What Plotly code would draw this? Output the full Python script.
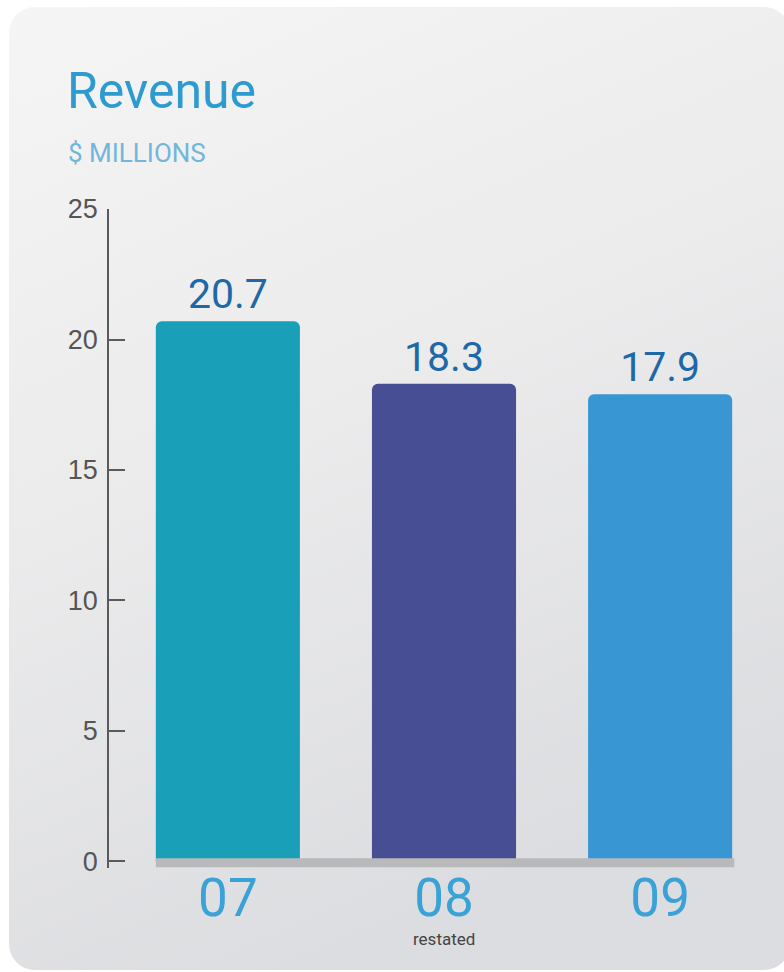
import base64
import plotly.graph_objects as go

# ---- data ----
years = ["07", "08", "09"]
revenue = [20.7, 18.3, 17.9]
value_labels = ["20.7", "18.3", "17.9"]
bar_colors = ["#199fb8", "#484e93", "#3896d3"]
y_ticks = [0, 5, 10, 15, 20, 25]
note_year = "08"
note_text = "restated"

W, H = 784, 972
ML, MR, MT, MB = 109, 5, 209, 104

COND = "Roboto, Liberation Sans Narrow, sans-serif"
SANS = "Liberation Sans, Arial, sans-serif"


def px_x(p):
    return (p - ML) / (W - ML - MR)


def px_y(p):
    return 1 - (p - MT) / (H - MT - MB)


# background card (rounded, gradient) as an inline SVG image
cx0, cy0, cw, ch = 9, 7, 781, 963
svg = f"""<svg xmlns='http://www.w3.org/2000/svg' width='{cw}' height='{ch}' viewBox='0 0 {cw} {ch}'>
<defs><linearGradient id='g' x1='0' y1='0' x2='0.35' y2='1'>
<stop offset='0' stop-color='#f5f5f5'/><stop offset='0.5' stop-color='#ebebec'/><stop offset='1' stop-color='#dcdde0'/>
</linearGradient></defs>
<rect x='0' y='0' width='{cw}' height='{ch}' rx='26' ry='26' fill='url(#g)'/></svg>"""
src = "data:image/svg+xml;base64," + base64.b64encode(svg.encode()).decode()

fig = go.Figure()
fig.add_trace(go.Bar(
    x=years, y=revenue,
    marker=dict(color=bar_colors, line=dict(width=0), cornerradius=6),
    text=value_labels, textposition="outside", cliponaxis=False,
    textfont=dict(family=COND, size=41, color="#1f68a8"),
    hoverinfo="skip",
))

bargap = 1 / 3
bw = 1 - bargap
fig.update_layout(
    width=W, height=H,
    margin=dict(l=ML, r=MR, t=MT, b=MB, autoexpand=False),
    paper_bgcolor="white", plot_bgcolor="rgba(0,0,0,0)",
    bargap=bargap, showlegend=False,
    xaxis=dict(type="category", categoryorder="array", categoryarray=years,
               range=[-0.55, len(years) - 1 + 0.55], showgrid=False, zeroline=False,
               showline=False, ticks="", fixedrange=True, ticklabelstandoff=-6,
               tickfont=dict(family=COND, size=53, color="#3aa2d6")),
    yaxis=dict(range=[-0.25, 25], tickvals=y_ticks, showgrid=False, zeroline=False,
               showline=True, linecolor="#5a5a5a", linewidth=1.5,
               ticks="inside", ticklen=16, tickwidth=1.5, tickcolor="#5a5a5a",
               tickfont=dict(family=SANS, size=27, color="#555555"), ticklabelstandoff=4),
    images=[dict(source=src, xref="paper", yref="paper", x=px_x(cx0), y=px_y(cy0),
                 sizex=px_x(cx0 + cw) - px_x(cx0), sizey=px_y(cy0) - px_y(cy0 + ch),
                 xanchor="left", yanchor="top", sizing="stretch", layer="below")],
    shapes=[dict(type="rect", xref="x", yref="y", x0=-bw / 2, x1=len(years) - 1 + bw / 2 + 0.01,
                 y0=-0.22, y1=0.12, fillcolor="#b8b9bb", line=dict(width=0), layer="above")],
    annotations=[
        dict(text="Revenue", xref="paper", yref="paper", x=px_x(65), y=px_y(60),
             xanchor="left", yanchor="top", showarrow=False,
             font=dict(family=COND, size=50, color="#2d9bd0")),
        dict(text="$ MILLIONS", xref="paper", yref="paper", x=px_x(66), y=px_y(136),
             xanchor="left", yanchor="top", showarrow=False,
             font=dict(family=COND, size=26, color="#72b6d9")),
        dict(text=note_text, xref="x", yref="paper", x=years.index(note_year), y=px_y(927),
             xanchor="center", yanchor="top", showarrow=False,
             font=dict(family=COND, size=17, color="#444444")),
    ],
)

fig.write_html("out.html")
